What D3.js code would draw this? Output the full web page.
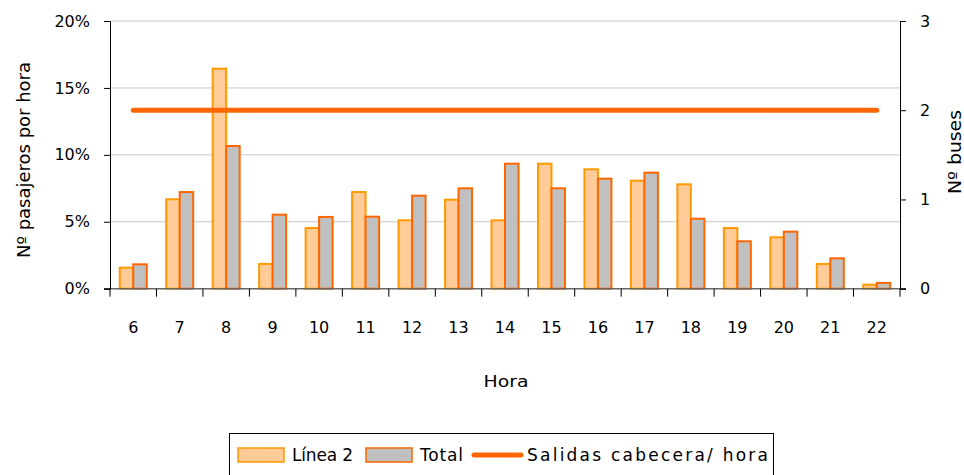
<!DOCTYPE html>
<html><head><meta charset="utf-8">
<script src="https://cdn.jsdelivr.net/npm/d3@7/dist/d3.min.js"></script>
<style>body{margin:0;background:#fff;} text{font-family:"DejaVu Sans",sans-serif;fill:#000;}</style>
</head><body><svg id="c" width="964" height="475"></svg>
<script>
const hours = ["6","7","8","9","10","11","12","13","14","15","16","17","18","19","20","21","22"];
const linea2 = [1.57,6.68,16.44,1.85,4.53,7.22,5.11,6.65,5.11,9.34,8.92,8.07,7.80,4.53,3.84,1.85,0.30];
const total = [1.82,7.22,10.66,5.53,5.36,5.38,6.95,7.50,9.34,7.50,8.22,8.67,5.23,3.54,4.26,2.27,0.43];
const salidas = [2,2,2,2,2,2,2,2,2,2,2,2,2,2,2,2,2];
const leftTicks = [0,5,10,15,20];
const rightTicks = [0,1,2,3];

const svg = d3.select("#c");
const L=110,R=900,T=21,B=288.7;
const x = d3.scaleBand().domain(hours).range([L,R]).paddingInner(0).paddingOuter(0);
const yL = d3.scaleLinear().domain([0,20]).range([B,T]);
const yR = d3.scaleLinear().domain([0,3]).range([B,T]);
const bw = 13.5, off = x.bandwidth()/2 - bw;

// grid
svg.append("g").selectAll("line").data(leftTicks.slice(1)).join("line")
  .attr("x1",L).attr("x2",R).attr("y1",d=>yL(d)).attr("y2",d=>yL(d))
  .attr("stroke","#c8c8c8").attr("stroke-width",1);

// bars
svg.append("g").selectAll("rect").data(linea2).join("rect")
  .attr("x",(d,i)=>x(hours[i])+off).attr("width",bw)
  .attr("y",d=>yL(d)).attr("height",d=>B-yL(d))
  .attr("fill","#ffcc99").attr("stroke","#ff9900").attr("stroke-width",2);
svg.append("g").selectAll("rect").data(total).join("rect")
  .attr("x",(d,i)=>x(hours[i])+off+bw).attr("width",bw)
  .attr("y",d=>yL(d)).attr("height",d=>B-yL(d))
  .attr("fill","#c0c0c0").attr("stroke","#ff6600").attr("stroke-width",2);

// zero line
svg.append("line").attr("x1",L-6).attr("x2",R+6).attr("y1",B).attr("y2",B).attr("stroke","#666").attr("stroke-width",1.5);

// line
svg.append("path").datum(salidas)
  .attr("d",d3.line().x((d,i)=>x(hours[i])+x.bandwidth()/2).y(d=>yR(d)))
  .attr("fill","none").attr("stroke","#ff6600").attr("stroke-width",5).attr("stroke-linecap","round");

// axes
const ga = svg.append("g").attr("transform",`translate(${L},0)`)
  .call(d3.axisLeft(yL).tickValues(leftTicks).tickFormat(d=>d+"%").tickSize(6).tickPadding(14));
const gr = svg.append("g").attr("transform",`translate(${R},0)`)
  .call(d3.axisRight(yR).tickValues(rightTicks).tickFormat(d3.format("d")).tickSize(6).tickPadding(14));
[ga,gr].forEach(g=>{g.select(".domain").attr("stroke","#000");g.selectAll(".tick line").attr("stroke","#000");
  g.selectAll("text").style("font-size","16px").attr("font-family","DejaVu Sans");});

// x ticks at band boundaries
const bounds = hours.map(h=>x(h)).concat([R]);
svg.append("g").selectAll("line").data(bounds).join("line")
  .attr("x1",d=>d).attr("x2",d=>d).attr("y1",B).attr("y2",B+8).attr("stroke","#000");
svg.append("g").selectAll("text").data(hours).join("text")
  .attr("x",d=>x(d)+x.bandwidth()/2).attr("y",333).attr("text-anchor","middle")
  .style("font-size","16px").text(d=>d);

// titles
svg.append("text").attr("x",506).attr("y",387).attr("text-anchor","middle").style("font-size","16px")
  .attr("textLength",45).attr("lengthAdjust","spacingAndGlyphs").text("Hora");
svg.append("text").attr("transform","translate(30,160) rotate(-90)").attr("text-anchor","middle").style("font-size","17px")
  .attr("textLength",196).attr("lengthAdjust","spacingAndGlyphs").text("Nº pasajeros por hora");
svg.append("text").attr("transform","translate(961,152) rotate(-90)").attr("text-anchor","middle").style("font-size","17px")
  .attr("textLength",84).attr("lengthAdjust","spacingAndGlyphs").text("Nº buses");

// legend
const lg = svg.append("g");
lg.append("rect").attr("x",229.5).attr("y",433.5).attr("width",544).attr("height",50).attr("fill","#fff").attr("stroke","#000");
lg.append("rect").attr("x",238).attr("y",448).attr("width",46).attr("height",14).attr("fill","#ffcc99").attr("stroke","#ff9900").attr("stroke-width",1.5);
lg.append("text").attr("x",292).attr("y",461).style("font-size","17px").attr("textLength",61).attr("lengthAdjust","spacing").text("Línea 2");
lg.append("rect").attr("x",366).attr("y",448).attr("width",46).attr("height",14).attr("fill","#c0c0c0").attr("stroke","#ff6600").attr("stroke-width",1.5);
lg.append("text").attr("x",420).attr("y",461).style("font-size","17px").attr("textLength",43).attr("lengthAdjust","spacing").text("Total");
lg.append("line").attr("x1",474).attr("x2",521).attr("y1",455).attr("y2",455).attr("stroke","#ff6600").attr("stroke-width",5).attr("stroke-linecap","round");
lg.append("text").attr("x",527).attr("y",461).style("font-size","17px").attr("textLength",241).attr("lengthAdjust","spacing").text("Salidas cabecera/ hora");
</script></body></html>
